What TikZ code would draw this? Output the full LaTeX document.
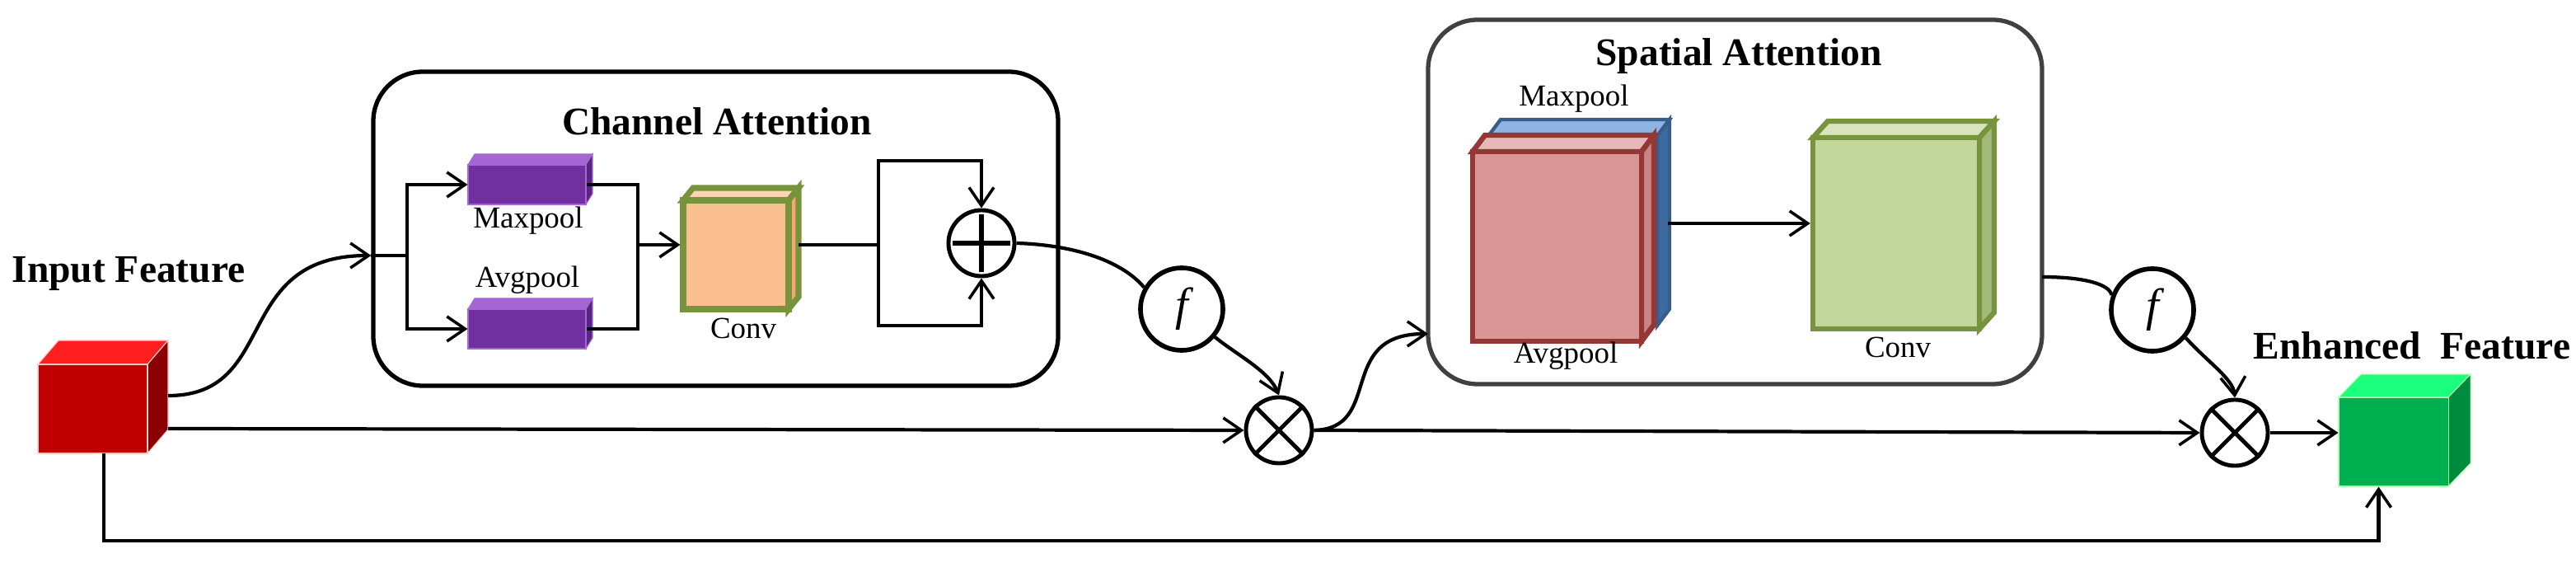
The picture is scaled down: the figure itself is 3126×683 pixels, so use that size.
\documentclass[tikz,border=0pt]{standalone}
\usepackage{fontspec}
\setmainfont{Liberation Serif}
\usetikzlibrary{arrows.meta,calc,fit}
\definecolor{inF}{HTML}{C00000}\definecolor{inT}{HTML}{FF1F1F}\definecolor{inS}{HTML}{8B0000}
\definecolor{puF}{HTML}{7030A0}\definecolor{puT}{HTML}{A466D2}\definecolor{puS}{HTML}{5A2580}
\definecolor{cvF}{HTML}{FAC090}\definecolor{cvT}{HTML}{FCD5B4}\definecolor{cvS}{HTML}{F4A870}\definecolor{grB}{HTML}{77933C}
\definecolor{blF}{HTML}{4F81BD}\definecolor{blT}{HTML}{8DB4E2}\definecolor{blS}{HTML}{3D6AA0}\definecolor{blB}{HTML}{385D8A}
\definecolor{rdF}{HTML}{D99694}\definecolor{rdT}{HTML}{E6B9B8}\definecolor{rdS}{HTML}{C98583}\definecolor{rdB}{HTML}{953735}
\definecolor{gcF}{HTML}{C3D69B}\definecolor{gcT}{HTML}{D7E4BD}\definecolor{gcS}{HTML}{A3B97A}
\definecolor{otF}{HTML}{00B050}\definecolor{otT}{HTML}{1AFF7C}\definecolor{otS}{HTML}{008A3E}
\newcommand\cube[9]{%
  \coordinate (#1-a) at (#2); \coordinate (#1-c) at (#3);
  \filldraw[fill=#6,draw=#8,line width=#9] (#1-a) -- ($(#1-a)+(#4)$) -- ($(#1-a -| #1-c)+(#4)$) -- (#1-a -| #1-c) -- cycle;
  \filldraw[fill=#7,draw=#8,line width=#9] (#1-a -| #1-c) -- ($(#1-a -| #1-c)+(#4)$) -- ($(#1-c)+(#4)$) -- (#1-c) -- cycle;
  \node[fit=(#1-a)(#1-c),inner sep=0pt,fill=#5,draw=#8,line width=#9] (#1) {};
}
\begin{document}
\begin{tikzpicture}[x=0.01cm,y=-0.01cm,
  arr/.style={-{Straight Barb[length=2.2mm,width=3mm,line width=1pt]}},
  con/.style={line width=1.2pt},
  thin/.style={line width=0.9pt},
  lbl/.style={font=\fontsize{10.5}{12}\selectfont},
  ttl/.style={font=\bfseries\fontsize{13.5}{15}\selectfont},
  op/.style={circle,draw,line width=1.4pt,minimum size=0.8cm,inner sep=0pt},
  fop/.style={circle,draw,line width=1.6pt,minimum size=1cm,inner sep=0pt,font=\itshape\fontsize{16}{18}\selectfont},
  box/.style={draw,line width=1.5pt,rounded corners=0.6cm,inner sep=0pt}]
\useasboundingbox (0,0) rectangle (3126,683);
% boxes
\coordinate (ca1) at (453,87); \coordinate (ca2) at (1284,468);
\node[box,fit=(ca1)(ca2)] (ca) {};
\coordinate (sa1) at (1733,24); \coordinate (sa2) at (2478,466);
\node[box,draw=black!75,fit=(sa1)(sa2)] (sa) {};
\node[ttl] (catitle) at (870,147) {Channel Attention};
\node[ttl] (satitle) at (2110,68) {Spatial Attention};
% cubes
\cube{in}{46,442}{179,550}{25,-29}{inF}{inT}{inS}{white!80!red}{0.3pt}
\cube{mp}{568,200}{711,248}{8,-13}{puF}{puT}{puS}{puT}{0.3pt}
\cube{ap}{568,375}{711,423}{8,-13}{puF}{puT}{puS}{puT}{0.3pt}
\cube{conv}{829,243}{957,375}{12,-15}{cvF}{cvT}{cvS}{grB}{2pt}
\cube{sb}{1806,165}{2011,395}{15,-20}{blF}{blT}{blS}{blB}{1.2pt}
\cube{sr}{1787,184}{1992,414}{15,-20}{rdF}{rdT}{rdS}{rdB}{1.8pt}
\cube{sc}{2200,167}{2402,399}{18,-20}{gcF}{gcT}{gcS}{grB}{1.8pt}
\cube{out}{2838,482}{2971,590}{27,-28}{otF}{otT}{otS}{white!70!green}{0.3pt}
% labels
\node[ttl] (inlbl) at (156,332) {Input Feature};
\node[ttl] (outlbl) at (2927,419) {Enhanced\ \ Feature};
\node[lbl] (mplbl) at (641,268) {Maxpool};
\node[lbl] (aplbl) at (640,340) {Avgpool};
\node[lbl] (convlbl) at (902,398) {Conv};
\node[lbl] (smplbl) at (1910,120) {Maxpool};
\node[lbl] (saplbl) at (1900,432) {Avgpool};
\node[lbl] (sconvlbl) at (2303,421) {Conv};
% operators
\node[op] (plus) at (1191,295) {};
\draw[line width=1.6pt] ($(plus.north)+(0,7)$) -- ($(plus.south)+(0,-7)$);
\draw[line width=1.6pt] ($(plus.west)+(7,0)$) -- ($(plus.east)+(-7,0)$);
\node[fop] (f1) at (1434,375) {f};
\node[fop] (f2) at (2612,376) {f};
\node[op] (m1) at (1552,522) {};
\draw[line width=1.4pt] (m1.north east) -- (m1.south west) (m1.north west) -- (m1.south east);
\node[op] (m2) at (2712,525) {};
\draw[line width=1.4pt] (m2.north east) -- (m2.south west) (m2.north west) -- (m2.south east);
% coordinates
\coordinate (inr) at (204,480);
\coordinate (br) at (494,310);
\coordinate (mg) at (774,297);
\coordinate (cvo) at (969,297);
\coordinate (sk) at (1066,297);
\coordinate (sain) at (1733,405);
\coordinate (saout) at (2478,336);
\coordinate (srr) at (2024,271);
\coordinate (bot) at (126,550);
% connectors
\draw[con,arr] (inr) .. controls (340,480) and (280,310) .. (ca.west |- br);
\draw[thin] (ca.west |- br) -- (br);
\draw[thin,arr] (br) |- (mp.west);
\draw[thin,arr] (br) |- (ap.west);
\draw[thin] (mp.east) -| (mg) |- (ap.east);
\draw[thin,arr] (mg) -- (conv.west |- mg);
\draw[thin] (cvo) -- (sk);
\draw[thin,arr] (sk) |- (1191,195) -- (plus.north);
\draw[thin,arr] (sk) |- (1191,395) -- (plus.south);
\draw[con] (plus.east) .. controls (1300,297) and (1360,315) .. (f1.150);
\draw[con,arr] (f1.-40) .. controls (1500,430) and (1540,450) .. (m1.north);
\draw[con,arr] (204,520) -- (m1.west);
\draw[con,arr] (m1.east) .. controls (1680,520) and (1620,405) .. (sain);
\draw[con,arr] (m1.east) -- (m2.west);
\draw[thin,arr] (srr) -- (sc.west |- srr);
\draw[con] (saout) .. controls (2530,336) and (2560,345) .. (f2.160);
\draw[con,arr] (f2.-40) .. controls (2680,440) and (2710,460) .. (m2.north);
\draw[con,arr] (m2.east) -- (out.west |- m2);
\draw[con,arr] (bot) -- (126,656) -| ($(out.south)+(-18,0)$);
\end{tikzpicture}
\end{document}
